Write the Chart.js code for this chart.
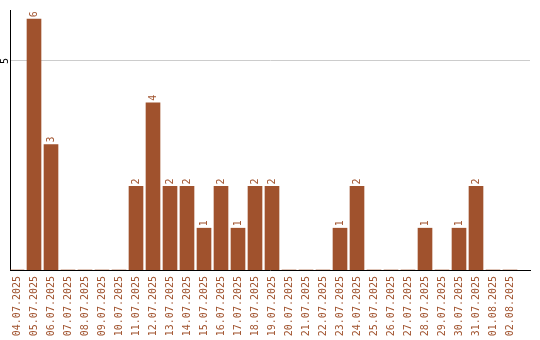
<!DOCTYPE html>
<html>
<head>
<meta charset="utf-8">
<script src="https://cdn.jsdelivr.net/npm/chart.js@4"></script>
<style>
  html, body { margin: 0; padding: 0; background: #fff; }
  #wrap { width: 540px; height: 340px; }
</style>
</head>
<body>
<div id="wrap"><canvas id="c" width="540" height="340"></canvas></div>
<script>
// Daily counts, 04.07.2025 – 02.08.2025
const dates = [
  '04.07.2025','05.07.2025','06.07.2025','07.07.2025','08.07.2025','09.07.2025',
  '10.07.2025','11.07.2025','12.07.2025','13.07.2025','14.07.2025','15.07.2025',
  '16.07.2025','17.07.2025','18.07.2025','19.07.2025','20.07.2025','21.07.2025',
  '22.07.2025','23.07.2025','24.07.2025','25.07.2025','26.07.2025','27.07.2025',
  '28.07.2025','29.07.2025','30.07.2025','31.07.2025','01.08.2025','02.08.2025'
];
const counts = [0,6,3,0,0,0,0,2,4,2,2,1,2,1,2,2,0,0,0,1,2,0,0,0,1,0,1,2,0,0];
const yTicks = [5];

const BAR = '#a0522d';
const FONT = '10px "DejaVu Sans Mono", monospace';

// value labels written vertically above each bar, plus the rotated y tick labels
const vertLabels = {
  id: 'vertLabels',
  afterDatasetsDraw(chart) {
    const ctx = chart.ctx;
    const meta = chart.getDatasetMeta(0);
    ctx.save();
    ctx.font = FONT;
    ctx.fillStyle = BAR;
    ctx.textAlign = 'left';
    ctx.textBaseline = 'middle';
    meta.data.forEach((bar, i) => {
      const v = counts[i];
      if (!v) return;
      ctx.save();
      ctx.translate(bar.x, bar.y - 2);
      ctx.rotate(-Math.PI / 2);
      ctx.fillText(String(v), 0, 0);
      ctx.restore();
    });
    const ys = chart.scales.y;
    ctx.fillStyle = '#000';
    ctx.textAlign = 'center';
    yTicks.forEach(t => {
      ctx.save();
      ctx.translate(5, ys.getPixelForValue(t));
      ctx.rotate(-Math.PI / 2);
      ctx.fillText(String(t), 0, 0);
      ctx.restore();
    });
    ctx.restore();
  }
};

new Chart(document.getElementById('c'), {
  type: 'bar',
  data: {
    datasets: [{
      data: counts.map((v, i) => ({ x: i, y: v })),
      backgroundColor: BAR,
      borderWidth: 0,
      barThickness: 14
    }]
  },
  options: {
    responsive: false,
    animation: false,
    devicePixelRatio: 1,
    layout: { padding: { top: 10, right: 10, left: 0, bottom: 0 } },
    plugins: { legend: { display: false }, tooltip: { enabled: false } },
    scales: {
      x: {
        type: 'linear',
        offset: false,
        min: -7 / 17,
        max: 513 / 17,
        afterBuildTicks(s) { s.ticks = dates.map((d, i) => ({ value: i })); },
        afterFit(s) { s.height = 70; },
        ticks: {
          autoSkip: false,
          minRotation: 90,
          maxRotation: 90,
          padding: 6,
          color: BAR,
          font: { family: '"DejaVu Sans Mono", monospace', size: 10 },
          callback: (v) => dates[v]
        },
        grid: { display: false, drawTicks: false },
        border: { display: true, color: '#000', width: 1 }
      },
      y: {
        min: 0,
        max: 6.22,
        afterBuildTicks(s) { s.ticks = yTicks.map(v => ({ value: v })); },
        afterFit(s) { s.width = 10; },
        ticks: { display: false },
        grid: { color: '#cccccc', drawTicks: false, lineWidth: 1 },
        border: { display: true, color: '#000', width: 1 }
      }
    }
  },
  plugins: [vertLabels]
});
</script>
</body>
</html>
